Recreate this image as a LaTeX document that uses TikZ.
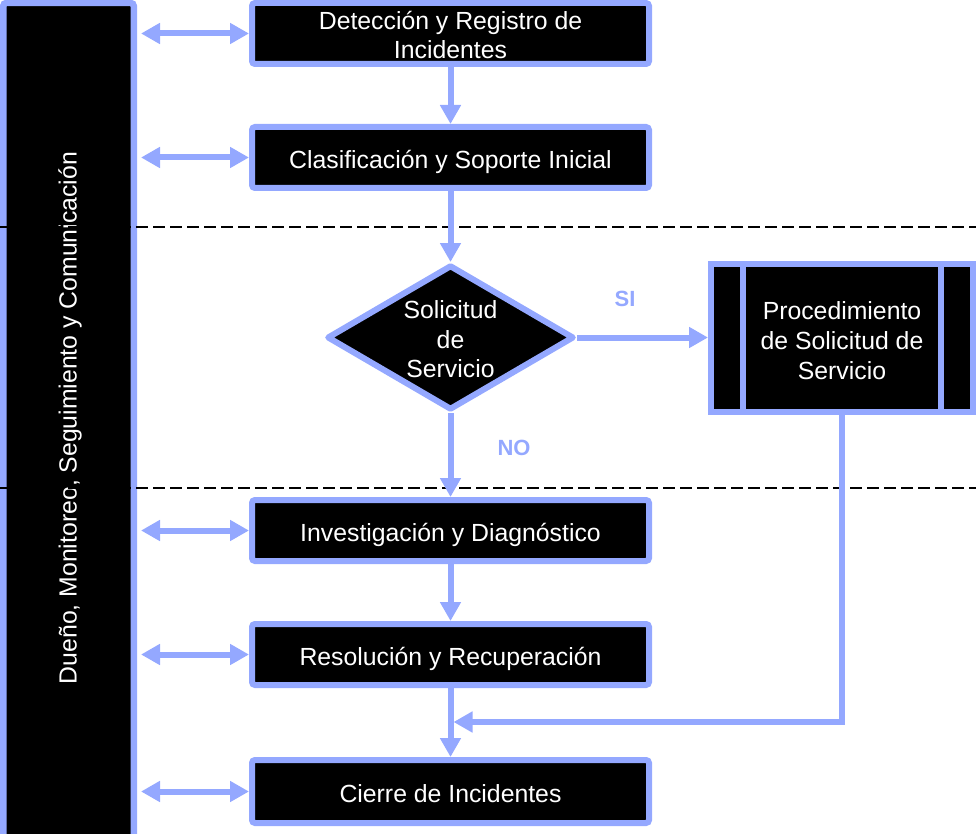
\documentclass[tikz,border=0pt]{standalone}
\usepackage{fontspec}
\setmainfont{Liberation Sans}
\usetikzlibrary{arrows.meta,calc,shapes.geometric}
\definecolor{flow}{RGB}{148,168,255}

% centred lines, set a little lower than their box's natural place
\newcommand{\droplines}[1]{\raisebox{-5pt}[\height][\depth]{%
  \begin{tabular}{@{}c@{}}#1\end{tabular}}}

\begin{document}
\begin{tikzpicture}[x=1pt,y=-1pt,
  boxtext/.style={text=white, font=\fontsize{24.8}{28.5}\selectfont},
  stepbox/.style={boxtext, draw=flow, line width=6pt, fill=black, rounded corners=3pt,
    minimum width=397pt, minimum height=61pt, inner sep=0pt},
  link/.style={draw=flow, line width=6pt, -{Triangle[length=19pt,width=20pt]}},
  both/.style={draw=flow, line width=6pt,
    {Triangle[length=19pt,width=20pt]}-{Triangle[length=19pt,width=20pt]}},
  guide/.style={draw=black, line width=2pt, dash pattern=on 12pt off 5pt},
  answer/.style={text=flow, font=\fontsize{22}{26}\selectfont\bfseries}]

\useasboundingbox (0,0) rectangle (976,834);

% owner column on the left
\node[draw=flow, line width=6.5pt, fill=black, rounded corners=3pt, inner sep=0pt,
      minimum width=130.5pt, minimum height=842pt] (owner) at (68.5,424) {};
\node[boxtext, rotate=90] (ownerlabel) at (70,418)
  {Dueño, Monitoreo, Seguimiento y Comunicación};

% phase separators
\coordinate (g1l) at (0,227);   \coordinate (g1r) at (976,227);
\coordinate (g2l) at (0,488);   \coordinate (g2r) at (976,488);
\draw[guide] (g1l) -- (g1r);
\draw[guide] (g2l) -- (g2r);

% process steps
\node[stepbox] (b1) at (450.5,33.5) {\droplines{Detección y Registro de\\Incidentes}};
\node[stepbox] (b2) at (450.5,157.5) {\droplines{Clasificación y Soporte Inicial}};
\node[boxtext, shape=diamond, draw=flow, fill=black, line width=6pt, line join=round,
      inner sep=0pt, aspect=1.7, minimum width=247pt, minimum height=145pt,
      font=\fontsize{24.8}{29.5}\selectfont] (dec) at (450.5,337.5)
  {\droplines{Solicitud\\de\\Servicio}};
\node[boxtext, draw=flow, fill=black, line width=6pt, inner sep=0pt,
      minimum width=262pt, minimum height=148pt,
      font=\fontsize{24.8}{30}\selectfont] (proc) at (842,338)
  {\droplines{Procedimiento\\de Solicitud de\\Servicio}};
\draw[flow, line width=6pt] ($(proc.north west)+(35,0)$) -- ($(proc.south west)+(35,0)$);
\draw[flow, line width=6pt] ($(proc.north east)+(-35,0)$) -- ($(proc.south east)+(-35,0)$);
\node[stepbox] (b3) at (450.5,530.5) {\droplines{Investigación y Diagnóstico}};
\node[stepbox] (b4) at (450.5,654.5) {\droplines{Resolución y Recuperación}};
\node[stepbox, minimum height=63pt] (b5) at (450.5,791.5) {\droplines{Cierre de Incidentes}};

% decision labels
\node[answer] (si) at (625,299) {SI};
\node[answer] (no) at (514,448) {NO};

% main flow
\draw[link] (b1.south) -- (b2.north);
\draw[link] (b2.south) -- (dec.north);
\draw[link] (dec.east) -- (dec.east -| proc.west);
\draw[link] (dec.south) -- (b3.north);
\draw[link] (b3.south) -- (b4.north);
\draw[link] (b4.south) -- (b5.north);
\coordinate (merge) at (453.5,722);
\draw[link] (proc.south) |- (merge);

% exchanges with the owner column
\foreach \b in {b1,b2,b3,b4,b5}
  \draw[both, shorten <=4pt] (owner.east |- \b.west) -- (\b.west);
\end{tikzpicture}
\end{document}
